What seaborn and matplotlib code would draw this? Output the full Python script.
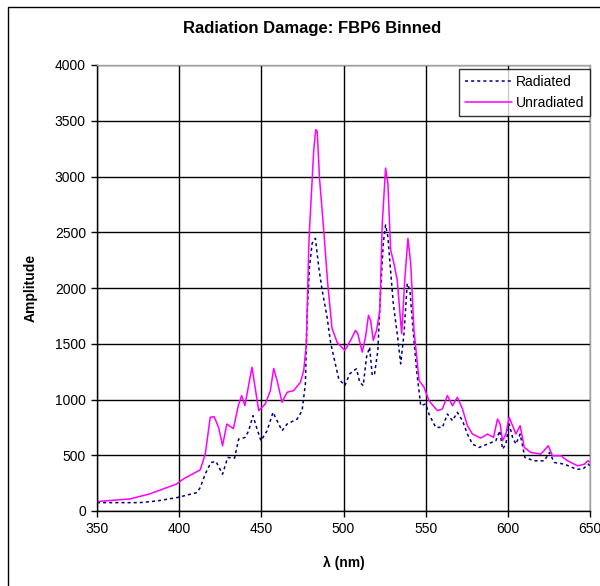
import numpy as np
import pandas as pd
import seaborn as sns
import matplotlib
matplotlib.use("Agg")
import matplotlib.pyplot as plt
from matplotlib.patches import Rectangle

# ---- data ----
unrad_wl = [350, 370, 382, 392.5, 398.6, 402.6, 412.8, 415.9, 418.9, 421.3, 424, 426.4, 429, 433, 436, 438, 440,
            444.3, 448.4, 452.4, 455.5, 457.5, 459.6, 462.6, 465.7, 469.7, 473.8, 475.8, 477.4, 478.8, 479.4, 481.9,
            483.1, 484, 485.4, 488, 490.4, 493, 496.2, 500.8, 504.3, 507.3, 508.7, 511.4, 513.4, 515.2, 516.5,
            518.1, 520.1, 522.1, 523.6, 525.6, 527, 528.7, 530.7, 532.7, 535.4, 537.4, 539.2, 540.9, 542.9, 546,
            549, 552, 557.1, 560.2, 563.2, 566.3, 569.3, 572.4, 575.4, 578.5, 583.5, 587.6, 591.3, 593.7, 595.3,
            596.8, 598.8, 600.8, 602.9, 604.9, 607.5, 610, 614, 620.1, 624.6, 627.2, 632.3, 636.4, 642.5, 646.6,
            648.6, 650]
unrad_amp = [85, 108, 153, 210, 243, 288, 369, 513, 840, 846, 750, 585, 780, 738, 945, 1035, 945,
             1290, 900, 960, 1080, 1278, 1170, 975, 1065, 1080, 1155, 1260, 1500, 2340, 2550, 3240,
             3420, 3405, 2985, 2510, 2040, 1640, 1510, 1440, 1530, 1620, 1590, 1425, 1560, 1755, 1710,
             1530, 1620, 1800, 2580, 3075, 2940, 2340, 2220, 2070, 1590, 2100, 2445, 2220, 1620, 1170,
             1110, 990, 900, 915, 1035, 945, 1020, 915, 765, 690, 654, 690, 660, 825, 780,
             630, 690, 840, 765, 690, 765, 570, 525, 510, 585, 495, 495, 450, 405, 420,
             450, 440]

rad_wl = [350, 376, 386.4, 398.6, 410.8, 412.8, 415.9, 419.3, 422.4, 426.4, 429.5, 433.7, 436.2, 440.2, 442.3,
          444.9, 447.4, 449.8, 453.5, 457.1, 459.6, 462.6, 465.7, 471.8, 474.8, 476.8, 477.8, 479.3, 480.9,
          482.9, 484.9, 487, 490, 492.1, 494.1, 497.1, 500.8, 503.8, 506.3, 507.9, 509.9, 512, 514, 515.9,
          517.5, 518.9, 520.9, 522.6, 524.2, 525.6, 527, 528.3, 530.3, 532.7, 534.8, 536.8, 538.8, 540.4,
          542.5, 544.5, 547, 550, 552, 556.1, 560.2, 563.2, 566.3, 569.3, 572.4, 575.4, 578.5, 582.5, 587.6,
          592.7, 595.1, 596.8, 598.8, 600.8, 602.9, 604.9, 607.5, 610.4, 616.1, 622.2, 625.3, 628.3, 634.5,
          641.6, 645.6, 649, 650]
rad_amp = [75, 75, 90, 120, 165, 210, 333, 435, 444, 330, 480, 474, 645, 660, 720,
           855, 735, 630, 720, 885, 810, 720, 780, 825, 900, 1140, 1740, 2190, 2400,
           2445, 2190, 1980, 1740, 1515, 1380, 1185, 1125, 1230, 1260, 1275, 1155, 1125, 1380, 1470,
           1215, 1230, 1440, 1980, 2400, 2565, 2460, 2220, 1860, 1590, 1320, 1590, 2040, 1980,
           1590, 1260, 945, 960, 870, 750, 750, 870, 810, 885, 810, 690, 600, 570, 600,
           630, 720, 555, 600, 780, 660, 600, 690, 480, 450, 450, 525, 435, 420,
           375, 375, 420, 405]

series_names = ["Radiated", "Unradiated"]
x_ticks = [350, 400, 450, 500, 550, 600, 650]
y_ticks = [0, 500, 1000, 1500, 2000, 2500, 3000, 3500, 4000]

df = pd.concat([
    pd.DataFrame({"wl": rad_wl, "amp": rad_amp, "series": series_names[0]}),
    pd.DataFrame({"wl": unrad_wl, "amp": unrad_amp, "series": series_names[1]}),
], ignore_index=True)

# ---- style ----
sns.set_style("white")
plt.rcParams["font.family"] = ["Liberation Sans", "DejaVu Sans"]
plt.rcParams["text.color"] = "black"
plt.rcParams["axes.labelcolor"] = "black"
plt.rcParams["xtick.color"] = "black"
plt.rcParams["ytick.color"] = "black"

fig = plt.figure(figsize=(6.0, 5.86), dpi=100)
ax = fig.add_axes([97 / 600, 1 - 511 / 586, (590 - 97) / 600, (511 - 65) / 586])

sns.lineplot(data=df, x="wl", y="amp", hue="series", style="series",
             palette={"Radiated": "#000080", "Unradiated": "#FF00FF"},
             dashes={"Radiated": (2, 2), "Unradiated": ""},
             sort=False, estimator=None, ax=ax, linewidth=1.1)

ax.set_xlim(350, 650)
ax.set_ylim(0, 4000)
ax.set_xticks(x_ticks)
ax.set_yticks(y_ticks)
ax.tick_params(axis="both", labelsize=10, colors="black", direction="out", length=4, width=1,
               left=True, bottom=True, pad=4)
ax.grid(True, color="black", linewidth=1)
ax.set_axisbelow(True)
for s in ["left", "bottom"]:
    ax.spines[s].set_color("black")
    ax.spines[s].set_linewidth(1)
for s in ["top", "right"]:
    ax.spines[s].set_color("#a0a0a0")
    ax.spines[s].set_linewidth(1)

ax.set_xlabel("λ (nm)", fontsize=10, fontweight="bold", labelpad=14, color="black")
ax.set_ylabel("Amplitude", fontsize=10, fontweight="bold", labelpad=12, color="black")
fig.text(0.52, 1 - 28 / 586, "Radiation Damage: FBP6 Binned", ha="center", va="center",
         fontsize=12, fontweight="bold", color="black")

leg = ax.legend(loc="upper right", bbox_to_anchor=(1.0, 0.99), borderaxespad=0,
                fontsize=10, frameon=True, fancybox=False, edgecolor="black",
                handlelength=3.4, handletextpad=0.3, labelspacing=0.5, borderpad=0.4)
leg.get_frame().set_linewidth(1)
for t in leg.get_texts():
    t.set_color("black")

# figure border
fig.patches.append(Rectangle((8 / 600, -0.05), 1.1, 1 - 7 / 586 + 0.05, transform=fig.transFigure,
                             fill=False, edgecolor="black", linewidth=1))

fig.savefig("out.png", dpi=100)
